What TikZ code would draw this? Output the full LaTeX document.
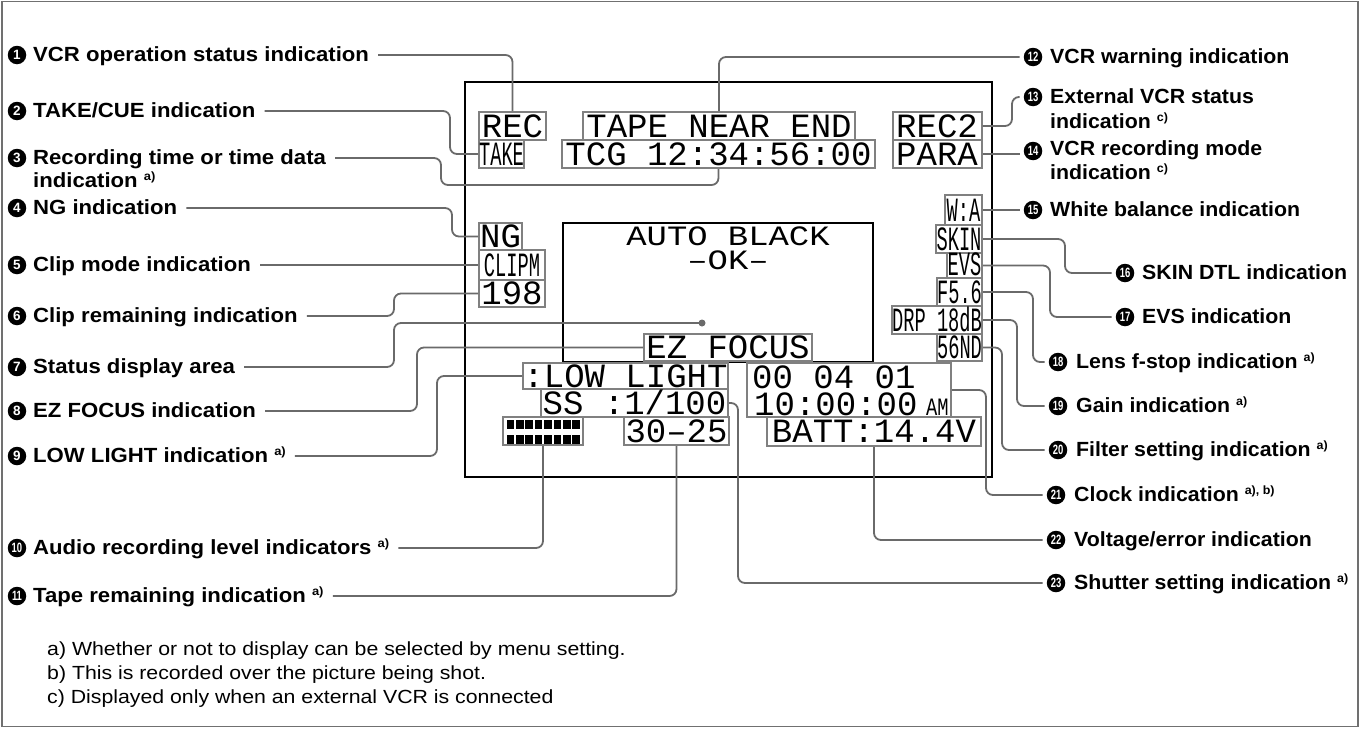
\documentclass[tikz,border=0pt]{standalone}
\usepackage{fontspec}
\setmainfont{Liberation Sans}
\newfontfamily\labf[FakeStretch=1.08]{Liberation Sans}
\newfontfamily\labrf[FakeStretch=1.04]{Liberation Sans}
\newfontfamily\numf{Liberation Sans}
\newfontfamily\notef[FakeStretch=1.12]{Liberation Sans}
\newfontfamily\lcdf{Liberation Mono}
\newfontfamily\lcdnf[FakeStretch=0.55]{Liberation Mono}
\newfontfamily\lcdamf[FakeStretch=0.75]{Liberation Mono}
\newfontfamily\lcdsf[FakeStretch=1.21]{Liberation Mono}
\definecolor{boxgray}{HTML}{808080}
\definecolor{linegray}{HTML}{6A6A6A}
\definecolor{framegray}{HTML}{707070}
\newcommand\lcd{\lcdf\fontsize{34}{34}\selectfont}
\newcommand\lcdn{\lcdnf\fontsize{34}{34}\selectfont}
\newcommand\sups[1]{\raisebox{7pt}{\fontsize{12}{12}\selectfont #1}}
\newcommand\dd[1]{\scalebox{0.7}[1]{#1}}
\usetikzlibrary{calc}
\tikzset{
 lcdbox/.style={draw=boxgray, line width=2pt, fill=white, inner sep=0pt, text height=22pt, text depth=0pt, font=\lcd},
 nbox/.style={lcdbox, font=\lcdn},
 conn/.style={draw=linegray, line width=1.8pt, rounded corners=7pt},
 numc/.style={circle, fill=black, text=white, inner sep=0pt, minimum size=18.5pt, font=\numf\bfseries\fontsize{13.5}{13.5}\selectfont},
 labl/.style={inner sep=0pt, anchor=west, text height=15pt, text depth=3pt, font=\labf\bfseries\fontsize{20.5}{24}\selectfont},
 labr/.style={labl, font=\labrf\bfseries\fontsize{20.5}{24}\selectfont},
 note/.style={inner sep=0pt, anchor=base west, font=\notef\fontsize{19}{24}\selectfont},
 lcdtext/.style={inner sep=0pt, anchor=base west, font=\lcd},
 stattext/.style={inner sep=0pt, text height=18.5pt, text depth=0pt, font=\lcdsf\fontsize{28}{28}\selectfont},
}
\begin{document}
\begin{tikzpicture}[x=1pt,y=-1pt]
\useasboundingbox (0,0) rectangle (1362,728);
\draw[framegray, line width=1.3pt] (2,1.5) rectangle (1358,726.5);

% screen
\draw[black, line width=1.2pt] (465,82) rectangle (992,477);
\draw[black, line width=2.2pt] (563,223) rectangle (873,362);
\node[stattext] (ab) at (728,236) {AUTO BLACK};
\node[stattext] (ok) at (728,260) {–OK–};
\node[circle, fill=linegray, inner sep=0pt, minimum size=7pt] (dot) at (702,323) {};

% left labels
\node[numc] (n1) at (17,55) {1};
\node[labl] (l1) at (33,55) {VCR operation status indication};
\node[numc] (n2) at (17,111) {2};
\node[labl] (l2) at (33,111) {TAKE/CUE indication};
\node[numc] (n3) at (17,158) {3};
\node[labl] (l3) at (33,158) {Recording time or time data};
\node[labl] (l3b) at (33,181) {indication \sups{a)}};
\node[numc] (n4) at (17,208) {4};
\node[labl] (l4) at (33,208) {NG indication};
\node[numc] (n5) at (17,265) {5};
\node[labl] (l5) at (33,265) {Clip mode indication};
\node[numc] (n6) at (17,316) {6};
\node[labl] (l6) at (33,316) {Clip remaining indication};
\node[numc] (n7) at (17,367) {7};
\node[labl] (l7) at (33,367) {Status display area};
\node[numc] (n8) at (17,411) {8};
\node[labl] (l8) at (33,411) {EZ FOCUS indication};
\node[numc] (n9) at (17,456) {9};
\node[labl] (l9) at (33,456) {LOW LIGHT indication \sups{a)}};
\node[numc] (n10) at (17,548) {\dd{10}};
\node[labl] (l10) at (33,548) {Audio recording level indicators \sups{a)}};
\node[numc] (n11) at (17,596) {\dd{11}};
\node[labl] (l11) at (33,596) {Tape remaining indication \sups{a)}};

% right labels
\node[numc] (n12) at (1033,57) {\dd{12}};
\node[labr] (l12) at (1050,57) {VCR warning indication};
\node[numc] (n13) at (1033,97) {\dd{13}};
\node[labr] (l13) at (1050,97) {External VCR status};
\node[labr] (l13b) at (1050,122) {indication \sups{c)}};
\node[numc] (n14) at (1033,151) {\dd{14}};
\node[labr] (l14) at (1050,149) {VCR recording mode};
\node[labr] (l14b) at (1050,173) {indication \sups{c)}};
\node[numc] (n15) at (1033,210) {\dd{15}};
\node[labr] (l15) at (1050,210) {White balance indication};
\node[numc] (n16) at (1125,273) {\dd{16}};
\node[labr] (l16) at (1142,273) {SKIN DTL indication};
\node[numc] (n17) at (1125,317) {\dd{17}};
\node[labr] (l17) at (1142,317) {EVS indication};
\node[numc] (n18) at (1058,362) {\dd{18}};
\node[labr] (l18) at (1076,362) {Lens f-stop indication \sups{a)}};
\node[numc] (n19) at (1058,406) {\dd{19}};
\node[labr] (l19) at (1076,406) {Gain indication \sups{a)}};
\node[numc] (n20) at (1058,450) {\dd{20}};
\node[labr] (l20) at (1076,450) {Filter setting indication \sups{a)}};
\node[numc] (n21) at (1056,495) {\dd{21}};
\node[labr] (l21) at (1074,495) {Clock indication \sups{a), b)}};
\node[numc] (n22) at (1056,540) {\dd{22}};
\node[labr] (l22) at (1074,540) {Voltage/error indication};
\node[numc] (n23) at (1056,583) {\dd{23}};
\node[labr] (l23) at (1074,583) {Shutter setting indication \sups{a)}};

% display boxes
\node[lcdbox, minimum width=67pt, minimum height=28pt] (rec) at (512.5,126) {REC};
\node[nbox, minimum width=45pt, minimum height=28pt] (take) at (501.5,154) {TAKE};
\node[lcdbox, minimum width=272pt, minimum height=28pt] (tape) at (719,126) {TAPE NEAR END};
\node[lcdbox, minimum width=313pt, minimum height=28pt] (tcg) at (718.5,154) {TCG 12:34:56:00};
\node[lcdbox, minimum width=89pt, minimum height=28pt] (rec2) at (937,126) {REC2};
\node[lcdbox, minimum width=89pt, minimum height=28pt] (para) at (937,154) {PARA};
\node[nbox, minimum width=37pt, minimum height=30pt] (wa) at (963.5,210) {W:A};
\node[nbox, minimum width=46pt, minimum height=28pt] (skin) at (959,239) {SKIN};
\node[nbox, minimum width=35pt, minimum height=25pt, text height=20pt] (evs) at (964.5,265.5) {EVS};
\node[nbox, minimum width=45pt, minimum height=28pt] (fstop) at (959.5,292) {F5.6};
\node[nbox, minimum width=89pt, minimum height=28pt] (drp) at (937,320) {DRP 18dB};
\node[nbox, minimum width=45pt, minimum height=27pt] (nd) at (959.5,347.5) {56ND};
\node[lcdbox, minimum width=43pt, minimum height=27pt] (ng) at (500.5,236.5) {NG};
\node[nbox, minimum width=66pt, minimum height=30pt] (clipm) at (512,265) {CLIPM};
\node[lcdbox, minimum width=66pt, minimum height=27pt] (clipr) at (512,293.5) {198};
\node[lcdbox, minimum width=168pt, minimum height=27pt] (ezf) at (728,347.5) {EZ FOCUS};
\node[lcdbox, minimum width=205pt, minimum height=26pt] (low) at (625.5,376) {:LOW LIGHT};
\node[lcdbox, minimum width=187pt, minimum height=28pt] (ss) at (634.5,403) {SS :1/100};
\node[lcdbox, minimum width=80pt, minimum height=28pt] (meter) at (543,431) {};
\foreach \i in {0,...,7} {
  \fill (506.5+\i*9.4,420) rectangle ++(7.6,8.5);
  \fill (506.5+\i*9.4,434.5) rectangle ++(7.6,9);
}
\node[lcdbox, minimum width=105pt, minimum height=28pt] (tr) at (676.5,431) {30–25};
\node[lcdbox, minimum width=204pt, minimum height=54pt] (clk) at (849,390) {};
\node[lcdtext] (clk1) at (752,388) {00 04 01};
\node[lcdtext] (clk2) at (754,415) {10:00:00};
\node[inner sep=0pt, anchor=base west, font=\lcdamf\fontsize{25}{25}\selectfont] (am) at (926,415) {AM};
\node[lcdbox, minimum width=214pt, minimum height=29pt] (batt) at (874,431.5) {BATT:14.4V};

% left connectors
\draw[conn, shorten <=9pt] (l1.east) -| (rec.north);
\draw[conn, shorten <=9pt] (l2.east) -- (450,111) |- (take.west);
\draw[conn, shorten <=9pt] (l3.east) -- (441,158) -- (441,185) -- (718.5,185) -- (tcg.south);
\draw[conn, shorten <=9pt] (l4.east) -- (452,208) |- (ng.west);
\draw[conn, shorten <=9pt] (l5.east) -- (clipm.west);
\draw[conn, shorten <=9pt] (l6.east) -- (394,316) |- (clipr.west);
\draw[conn, shorten <=9pt] (l7.east) -- (394,367) |- (dot.center);
\draw[conn, shorten <=9pt] (l8.east) -- (417,411) |- (ezf.west);
\draw[conn, shorten <=9pt] (l9.east) -- (437,456) |- (low.west);
\draw[conn, shorten <=9pt] (l10.east) -| (meter.south);
\draw[conn, shorten <=9pt] (l11.east) -| (tr.south);

% right connectors
\draw[conn, shorten >=4pt] (tape.north) |- (n12.west);
\draw[conn, shorten >=4pt] (rec2.east) -- (1012,126) |- (n13.west);
\draw[conn, shorten >=4pt] (para.east) -- (para.east -| n14.west);
\draw[conn, shorten >=4pt] (wa.east) -- (wa.east -| n15.west);
\draw[conn, shorten >=4pt] (skin.east) -- (1065,239) |- (n16.west);
\draw[conn, shorten >=4pt] (evs.east) -- (1050,265.5) |- (n17.west);
\draw[conn, shorten >=4pt] (fstop.east) -- (1033,292) |- (n18.west);
\draw[conn, shorten >=4pt] (drp.east) -- (1017,320) |- (n19.west);
\draw[conn, shorten >=4pt] (nd.east) -- (1002,347.5) |- (n20.west);
\draw[conn, shorten >=4pt] (clk.east) -- (986,390) |- (n21.west);
\draw[conn, shorten >=4pt] (batt.south) |- (n22.west);
\draw[conn, shorten >=4pt] (ss.east) -- (738,403) |- (n23.west);

% footnotes
\node[note] (fa) at (47,655) {a) Whether or not to display can be selected by menu setting.};
\node[note] (fb) at (47,679) {b) This is recorded over the picture being shot.};
\node[note] (fc) at (47,703) {c) Displayed only when an external VCR is connected};
\end{tikzpicture}
\end{document}
